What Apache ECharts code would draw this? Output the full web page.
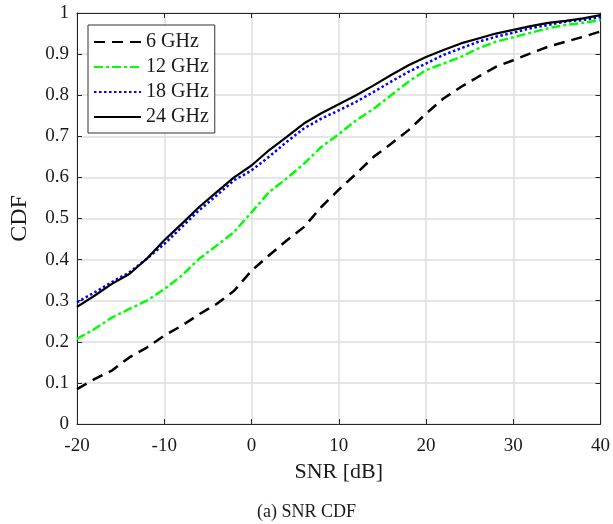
<!DOCTYPE html>
<html>
<head>
<meta charset="utf-8">
<script src="https://cdn.jsdelivr.net/npm/echarts@6/dist/echarts.min.js"></script>
<style>
  html, body { margin: 0; padding: 0; background: #fff; }
  #chart { width: 613px; height: 524px; }
</style>
</head>
<body>
<div id="chart"></div>
<script>
// SNR samples (dB) at which each empirical CDF is sampled
const snrDb = [-20, -18, -16, -14, -12, -10, -8, -6, -4, -2, 0, 2, 4, 6, 8, 10,
               12, 14, 16, 18, 20, 22, 24, 26, 28, 30, 32, 34, 36, 38, 40];

const cdf6GHz = [0.085, 0.109, 0.130, 0.162, 0.186, 0.215, 0.239, 0.267, 0.292, 0.324,
                 0.373, 0.410, 0.446, 0.479, 0.528, 0.570, 0.609, 0.650, 0.682, 0.715,
                 0.755, 0.792, 0.820, 0.845, 0.869, 0.885, 0.902, 0.918, 0.930, 0.942, 0.955];

const cdf12GHz = [0.207, 0.231, 0.259, 0.280, 0.300, 0.328, 0.361, 0.402, 0.434, 0.467,
                  0.515, 0.564, 0.597, 0.633, 0.674, 0.705, 0.739, 0.767, 0.800, 0.833,
                  0.861, 0.877, 0.893, 0.914, 0.930, 0.941, 0.952, 0.963, 0.971, 0.976, 0.983];

const cdf18GHz = [0.296, 0.320, 0.345, 0.369, 0.402, 0.438, 0.479, 0.520, 0.556, 0.593,
                  0.617, 0.650, 0.686, 0.719, 0.743, 0.763, 0.784, 0.808, 0.833, 0.857,
                  0.877, 0.898, 0.914, 0.930, 0.942, 0.952, 0.963, 0.971, 0.979, 0.983, 0.990];

const cdf24GHz = [0.285, 0.312, 0.341, 0.365, 0.402, 0.447, 0.487, 0.528, 0.564, 0.600,
                  0.629, 0.666, 0.698, 0.731, 0.756, 0.778, 0.800, 0.824, 0.849, 0.873,
                  0.893, 0.910, 0.926, 0.938, 0.950, 0.959, 0.968, 0.976, 0.981, 0.987, 0.995];

const seriesNames = ['6 GHz', '12 GHz', '18 GHz', '24 GHz'];
const xTicks = { min: -20, max: 40, step: 10 };
const yTicks = { min: 0, max: 1, step: 0.1 };
const captionText = '(a) SNR CDF';

const FONT = '"Liberation Serif", "Times New Roman", serif';
const INK = '#1a1a1a';
const AXIS = '#262626';
const GRID = '#dedede';

const pair = (ys) => snrDb.map((x, i) => [x, ys[i]]);

function lineSeries(name, ys, color, type, width) {
  return {
    name: name,
    type: 'line',
    data: pair(ys),
    showSymbol: false,
    symbol: 'none',
    smooth: false,
    xAxisIndex: 0,
    yAxisIndex: 0,
    lineStyle: { color: color, width: width, type: type },
    itemStyle: { color: color },
    z: 3
  };
}

const hiddenAxisCommon = {
  axisLine: { show: true, onZero: false, lineStyle: { color: AXIS, width: 1 } },
  axisTick: { show: true, inside: true, length: 5, lineStyle: { color: AXIS } },
  axisLabel: { show: false },
  splitLine: { show: false }
};

const chart = echarts.init(document.getElementById('chart'), null, { renderer: 'canvas' });

chart.setOption({
  animation: false,
  backgroundColor: '#ffffff',
  textStyle: { fontFamily: FONT },
  grid: { left: 75, right: 9, top: 13, bottom: 100, containLabel: false },
  legend: {
    orient: 'vertical',
    left: 88,
    top: 25,
    data: seriesNames,
    itemWidth: 47,
    itemHeight: 14,
    itemGap: 5,
    padding: [7, 6, 6, 5],
    backgroundColor: '#ffffff',
    borderColor: '#333333',
    borderWidth: 1,
    borderRadius: 0,
    // line-only legend keys: hide the marker drawn on top of the line
    itemStyle: { color: 'rgba(0,0,0,0)', borderWidth: 0, opacity: 0 },
    textStyle: { fontFamily: FONT, fontSize: 20, color: INK, lineHeight: 20 },
    z: 10
  },
  xAxis: [
    {
      type: 'value',
      min: xTicks.min, max: xTicks.max, interval: xTicks.step,
      name: 'SNR [dB]',
      nameLocation: 'middle',
      nameGap: 33,
      nameTextStyle: { fontFamily: FONT, fontSize: 22, color: INK },
      axisLine: { show: true, onZero: false, lineStyle: { color: AXIS, width: 1 } },
      axisTick: { show: true, inside: true, length: 5, lineStyle: { color: AXIS } },
      axisLabel: { fontFamily: FONT, fontSize: 19, color: INK, margin: 13 },
      splitLine: { show: true, lineStyle: { color: GRID, width: 1.5 } }
    },
    Object.assign({
      type: 'value', position: 'top',
      min: xTicks.min, max: xTicks.max, interval: xTicks.step
    }, hiddenAxisCommon)
  ],
  yAxis: [
    {
      type: 'value',
      min: yTicks.min, max: yTicks.max, interval: yTicks.step,
      name: 'CDF',
      nameLocation: 'middle',
      nameGap: 45,
      nameTextStyle: { fontFamily: FONT, fontSize: 24, color: INK },
      axisLine: { show: true, onZero: false, lineStyle: { color: AXIS, width: 1 } },
      axisTick: { show: true, inside: true, length: 5, lineStyle: { color: AXIS } },
      axisLabel: { fontFamily: FONT, fontSize: 19, color: INK, margin: 8 },
      splitLine: { show: true, lineStyle: { color: GRID, width: 1.5 } }
    },
    Object.assign({
      type: 'value', position: 'right',
      min: yTicks.min, max: yTicks.max, interval: yTicks.step
    }, hiddenAxisCommon)
  ],
  series: [
    lineSeries(seriesNames[0], cdf6GHz, '#000000', [11, 7], 2.5),
    lineSeries(seriesNames[1], cdf12GHz, '#00ff00', [9, 3, 3, 3], 2.5),
    lineSeries(seriesNames[2], cdf18GHz, '#0000ff', [2.5, 2.5], 2.5),
    lineSeries(seriesNames[3], cdf24GHz, '#000000', 'solid', 2.2)
  ],
  graphic: [
    {
      type: 'text',
      left: 'center',
      top: 503,
      style: { text: captionText, fontFamily: FONT, fontSize: 18, fill: INK }
    }
  ]
});
</script>
</body>
</html>
